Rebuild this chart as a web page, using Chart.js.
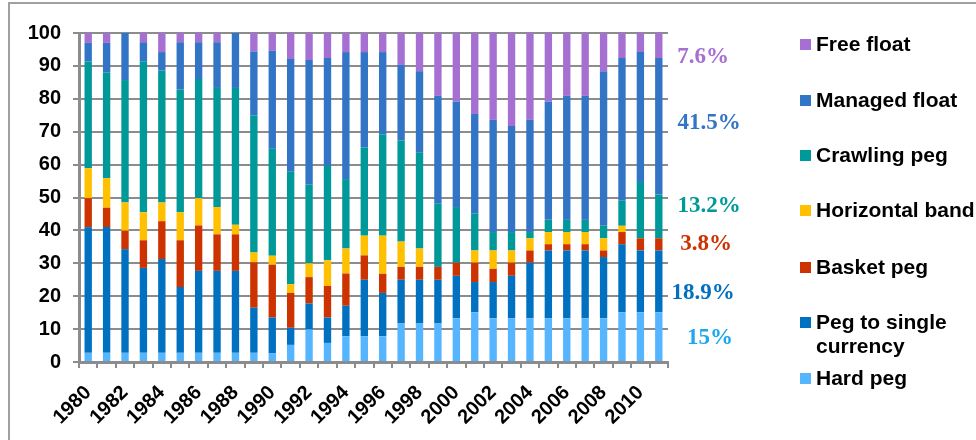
<!DOCTYPE html>
<html>
<head>
<meta charset="utf-8">
<script src="https://cdn.jsdelivr.net/npm/chart.js@4.4.1/dist/chart.umd.min.js"></script>
<style>
  html, body { margin: 0; padding: 0; background: #fff; }
  #wrap { position: relative; width: 976px; height: 440px; overflow: hidden; background: #fff; }
  #frame { position: absolute; left: 8px; top: 2px; width: 1200px; height: 600px;
           border-top: 2px solid #a0a0a0; border-left: 2px solid #a0a0a0; }
  #grafico { position: absolute; left: 0; top: 0; }
  .share { position: absolute; width: 80px; margin-left: -40px; text-align: center;
           font: bold 23px "Liberation Serif", "Times New Roman", serif; line-height: 24px; }
  .leg { position: absolute; left: 800px; font: bold 21px "Liberation Sans", Arial, sans-serif;
         color: #000; line-height: 24px; }
  .leg i { position: absolute; left: 0; top: 7px; width: 11px; height: 11px; }
  .leg span { display: block; margin-left: 16px; }
</style>
</head>
<body>
<div id="wrap">
  <div id="frame"></div>
  <canvas id="grafico" width="976" height="440"></canvas>
</div>
<script>
// anos 1980 - 2011
const years = [];
for (let y = 1980; y <= 2011; y++) years.push(String(y));

// series (bottom to top of stack), % of countries
const hardPeg = [2.8, 2.8, 2.8, 2.8, 2.8, 2.8, 2.8, 2.8, 2.8, 2.8, 2.7, 5.2, 9.9, 5.8, 7.8, 7.8,
                 7.8, 11.7, 11.7, 11.7, 13.3, 15.1, 13.3, 13.3, 13.3, 13.3, 13.3, 13.3, 13.3, 15.1, 15.1, 15.1];
const pegSingle = [38.2, 38.2, 31.5, 25.8, 28.5, 20.0, 24.9, 24.9, 24.9, 13.7, 10.8, 5.2, 7.9, 7.7, 9.3, 17.2,
                   13.2, 13.3, 13.3, 13.3, 12.9, 9.2, 11.0, 12.9, 16.9, 20.6, 20.6, 20.6, 18.6, 20.7, 18.8, 18.8];
const basketPeg = [8.8, 5.9, 5.6, 8.4, 11.5, 14.2, 13.8, 11.1, 11.1, 13.8, 16.1, 10.6, 8.0, 9.6, 9.8, 7.4,
                   5.8, 3.9, 3.9, 3.9, 4.0, 5.9, 4.0, 4.0, 3.7, 1.9, 1.9, 1.9, 2.0, 3.7, 3.7, 3.7];
const horizBand = [9.1, 9.0, 8.6, 8.5, 5.7, 8.5, 8.3, 8.3, 2.9, 3.0, 2.7, 2.6, 4.2, 7.8, 7.6, 6.0,
                   11.6, 7.7, 5.6, 0, 0, 3.7, 5.6, 3.7, 3.7, 3.7, 3.7, 3.7, 3.7, 1.9, 0, 0];
const crawlingPeg = [32.4, 32.2, 37.2, 45.8, 40.1, 37.3, 36.2, 36.2, 41.6, 41.6, 32.5, 34.2, 23.9, 28.7, 21.1, 26.8,
                     30.7, 30.7, 29.1, 19.2, 16.9, 11.3, 5.6, 5.6, 1.9, 3.7, 3.7, 3.7, 3.8, 7.6, 17.1, 13.3];
const managedFloat = [5.7, 8.9, 14.3, 5.9, 5.6, 14.4, 11.2, 13.9, 16.7, 19.5, 29.8, 34.3, 37.9, 32.8, 38.6, 29.0,
                      25.1, 23.0, 24.8, 32.8, 32.1, 30.2, 34.1, 32.2, 34.1, 36.0, 37.7, 37.7, 47.0, 43.4, 39.5, 41.5];
const freeFloat = [3.0, 3.0, 0, 2.8, 5.8, 2.8, 2.8, 2.8, 0, 5.6, 5.4, 7.9, 8.2, 7.6, 5.8, 5.8,
                   5.8, 9.7, 11.6, 19.1, 20.8, 24.6, 26.4, 28.3, 26.4, 20.8, 19.1, 19.1, 11.6, 7.6, 5.8, 7.6];

const seriesNames = ["Hard peg", "Peg to single currency", "Basket peg", "Horizontal band",
                     "Crawling peg", "Managed float", "Free float"];
const seriesData = [hardPeg, pegSingle, basketPeg, horizBand, crawlingPeg, managedFloat, freeFloat];
const seriesColors = ["#56b5ff", "#0070c0", "#cc3300", "#ffc000", "#009999", "#3274c6", "#a66fd2"];

// 2011 shares written at the right of the last bar
const shareLabels = ["15%", "18.9%", "3.8%", "13.2%", "41.5%", "7.6%"];
const shareColors = ["#1aa8ee", "#0070c0", "#cc3300", "#009999", "#3274c6", "#a66fd2"];
const shareY = [337, 292, 243, 205, 122, 56];
const shareX = [710, 703, 706, 709, 709, 703];

const legendY = [32, 88, 143, 198, 255, 310, 366];

const wrap = document.getElementById("wrap");
// etiquetas de porcentaje
shareLabels.forEach((t, i) => {
  const d = document.createElement("div");
  d.className = "share";
  d.textContent = t;
  d.style.color = shareColors[i];
  d.style.left = shareX[i] + "px";
  d.style.top = (shareY[i] - 12) + "px";
  wrap.appendChild(d);
});
// leyenda (de arriba hacia abajo)
seriesNames.slice().reverse().forEach((name, k) => {
  const i = seriesNames.length - 1 - k;
  const d = document.createElement("div");
  d.className = "leg";
  d.style.top = legendY[k] + "px";
  const sw = document.createElement("i");
  sw.style.background = seriesColors[i];
  const s = document.createElement("span");
  if (name === "Peg to single currency") {
    s.innerHTML = "Peg to single<br>currency";
  } else {
    s.textContent = name;
  }
  d.appendChild(sw);
  d.appendChild(s);
  wrap.appendChild(d);
});

const gridGray = "#8c8c8c";
const tickFont = { family: "'Liberation Sans', Arial, sans-serif", size: 20, weight: "bold" };

new Chart(document.getElementById("grafico"), {
  type: "bar",
  data: {
    labels: years,
    datasets: seriesData.map((d, i) => ({
      label: seriesNames[i],
      data: d,
      backgroundColor: seriesColors[i],
      borderWidth: 0,
      barPercentage: 0.4,
      categoryPercentage: 1.0
    }))
  },
  options: {
    responsive: false,
    animation: false,
    layout: { padding: { top: 33, right: 308, left: 0, bottom: 0 } },
    plugins: { legend: { display: false }, tooltip: { enabled: false } },
    scales: {
      x: {
        stacked: true,
        grid: { drawOnChartArea: false, drawTicks: true, tickLength: 6, color: gridGray, lineWidth: 2 },
        border: { color: gridGray, width: 3 },
        ticks: {
          autoSkip: false, minRotation: 45, maxRotation: 45, padding: 13,
          color: "#000", font: tickFont,
          callback: function (v, i) { return i % 2 === 0 ? this.getLabelForValue(v) : ""; }
        },
        afterFit: s => { s.height = 78; }
      },
      y: {
        stacked: true,
        min: 0, max: 100,
        grid: { color: gridGray, lineWidth: 2, tickLength: 6 },
        border: { color: gridGray, width: 3 },
        ticks: { stepSize: 10, color: "#000", font: tickFont, padding: 12 },
        afterFit: s => { s.width = 79; }
      }
    }
  }
});
</script>
</body>
</html>
